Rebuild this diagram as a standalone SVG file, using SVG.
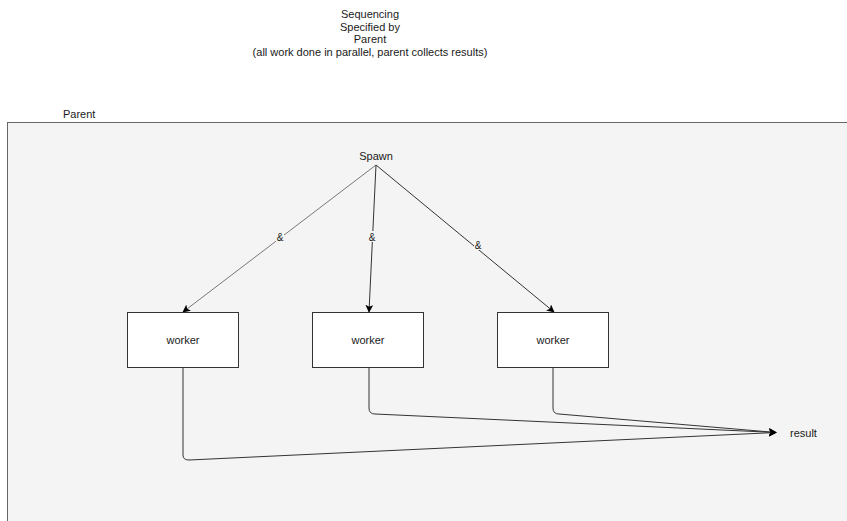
<svg xmlns="http://www.w3.org/2000/svg" width="847" height="521" viewBox="0 0 847 521">
  <style>
    text { font-family: "Liberation Sans", Arial, sans-serif; font-size: 11px; fill: #1a1a1a; }
    .mid { text-anchor: middle; }
    .box { fill: #ffffff; stroke: #333333; stroke-width: 1; }
    .edge { fill: none; stroke: #333333; stroke-width: 1; }
    .lbl { fill: #f4f4f4; }
  </style>
  <defs>
    <marker id="arrow" viewBox="0 0 10 10" refX="9" refY="5" markerWidth="8" markerHeight="8" orient="auto" markerUnits="userSpaceOnUse">
      <path d="M0,0 L10,5 L0,10 L2.5,5 Z" fill="#000"/>
    </marker>
  </defs>
  <rect width="847" height="521" fill="#ffffff"/>

  <g id="title">
    <text class="mid" x="370" y="18">Sequencing</text>
    <text class="mid" x="370" y="31">Specified by</text>
    <text class="mid" x="370" y="43">Parent</text>
    <text class="mid" x="370" y="56">(all work done in parallel, parent collects results)</text>
  </g>

  <g id="parent">
    <text x="63" y="118">Parent</text>
    <rect x="7.5" y="122.5" width="845" height="405" fill="#f4f4f4" stroke="#666666" stroke-width="1"/>
  </g>

  <g id="spawn">
    <text class="mid" x="376" y="160">Spawn</text>
  </g>

  <g id="connectors">
    <line class="edge" x1="376" y1="165" x2="183" y2="312" stroke="#777777" style="stroke:#777" marker-end="url(#arrow)"/>
    <line class="edge" x1="376" y1="165" x2="369" y2="312" marker-end="url(#arrow)"/>
    <line class="edge" x1="376" y1="165" x2="554" y2="312" marker-end="url(#arrow)"/>
    <path class="edge" d="M183,368 V455 Q183,460 189,460 L776,432.5" marker-end="url(#arrow)"/>
    <path class="edge" d="M369,368 V408 Q369,414 375,414 L776,432.5" marker-end="url(#arrow)"/>
    <path class="edge" d="M553,368 V408 Q553,414 559,414 L776,432.5" marker-end="url(#arrow)"/>
    <rect class="lbl" x="276" y="231" width="8" height="11"/>
    <text class="mid" x="280" y="241" style="font-size:10px">&amp;</text>
    <rect class="lbl" x="368" y="231" width="8" height="11"/>
    <text class="mid" x="372" y="241" style="font-size:10px">&amp;</text>
    <rect class="lbl" x="474" y="239" width="8" height="11"/>
    <text class="mid" x="478" y="249" style="font-size:10px">&amp;</text>
  </g>

  <g id="worker1">
    <rect class="box" x="127.5" y="312.5" width="111" height="55"/>
    <text class="mid" x="183" y="344">worker</text>
  </g>
  <g id="worker2">
    <rect class="box" x="312.5" y="312.5" width="111" height="55"/>
    <text class="mid" x="368" y="344">worker</text>
  </g>
  <g id="worker3">
    <rect class="box" x="497.5" y="312.5" width="111" height="55"/>
    <text class="mid" x="553" y="344">worker</text>
  </g>

  <g id="result">
    <text x="790" y="437">result</text>
  </g>
</svg>
